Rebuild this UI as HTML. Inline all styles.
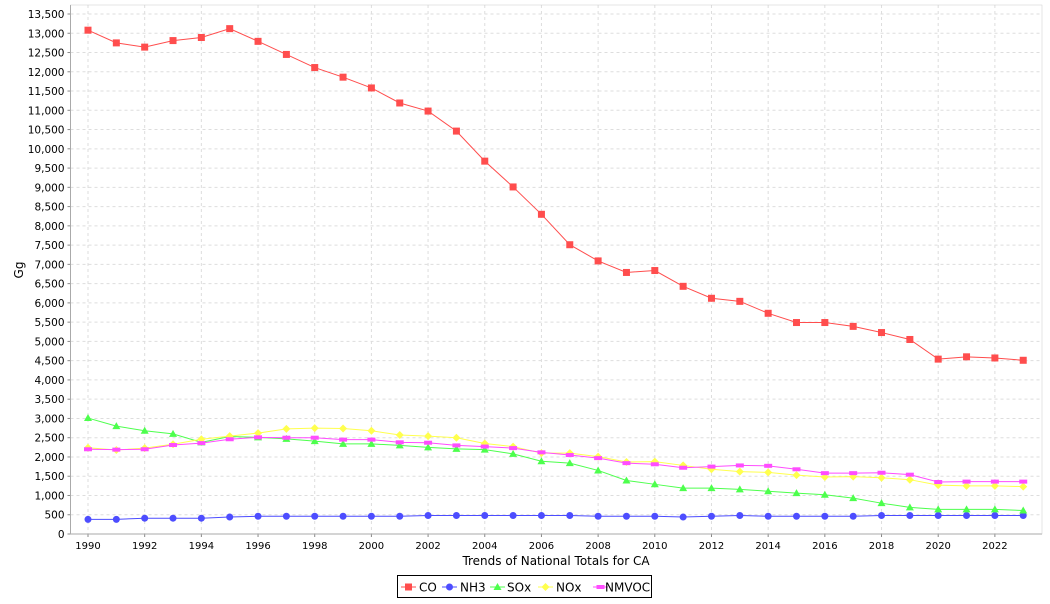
<!DOCTYPE html><html><head><meta charset="utf-8"><style>body{margin:0;background:#fff;font-family:"DejaVu Sans",sans-serif}</style></head><body>
<svg id="s" width="1050" height="600" xmlns="http://www.w3.org/2000/svg" font-family="DejaVu Sans, sans-serif"></svg>
<script>
const s=document.getElementById('s');let h='';
const L=70.5,R=1042,T=5,B=534;
const X=y=>88+(y-1990)*28.34, Y=v=>B-v*520/13500;
h+=`<rect x="${L}" y="${T}" width="${R-L}" height="${B-T}" fill="#fff"/>`;
for(let v=0;v<=13500;v+=500){let y=Y(v);h+=`<line x1="${L}" x2="${R}" y1="${y}" y2="${y}" stroke="#ddd" stroke-dasharray="3,3"/><line x1="${L-3}" x2="${L}" y1="${y}" y2="${y}" stroke="#888"/><text x="${L-6}" y="${y+4}" font-size="10.5" text-anchor="end">${v.toLocaleString('en-US')}</text>`;}
for(let yr=1990;yr<=2022;yr+=2){let x=X(yr);h+=`<line y1="${T}" y2="${B}" x1="${x}" x2="${x}" stroke="#ddd" stroke-dasharray="3,3"/><line y1="${B}" y2="${B+3}" x1="${x}" x2="${x}" stroke="#888"/><text x="${x}" y="${B+15}" font-size="10" text-anchor="middle">${yr}</text>`;}
h+=`<line x1="${L}" x2="${L}" y1="${T}" y2="${B}" stroke="#888"/><line x1="${L}" x2="${R}" y1="${B}" y2="${B}" stroke="#888"/><rect x="${L}" y="${T}" width="${R-L}" height="${B-T}" fill="none" stroke="#ccc" stroke-width="0.5"/>`;
h+=`<text x="556" y="565" font-size="12" text-anchor="middle">Trends of National Totals for CA</text><text x="23" y="270" font-size="12" text-anchor="middle" transform="rotate(-90 23 270)">Gg</text>`;
const D=[
['#ff4d4d','sq',[13080,12750,12640,12810,12890,13120,12790,12450,12110,11860,11580,11190,10980,10460,9680,9010,8300,7510,7090,6790,6840,6430,6120,6040,5730,5490,5490,5390,5230,5050,4540,4600,4570,4510]],
['#4d4dff','ci',[380,380,410,410,410,440,460,460,460,460,460,460,480,480,480,480,480,480,460,460,460,440,460,480,460,460,460,460,480,480,480,480,480,480]],
['#4dff4d','tr',[3010,2800,2680,2600,2380,2530,2510,2470,2410,2340,2340,2300,2250,2210,2190,2080,1890,1840,1650,1390,1290,1190,1190,1160,1110,1060,1020,930,800,690,640,640,640,610]],
['#ffff4d','di',[2240,2180,2230,2330,2460,2540,2620,2730,2750,2740,2680,2570,2540,2500,2350,2270,2100,2100,2010,1870,1880,1780,1680,1620,1600,1530,1480,1490,1460,1410,1270,1250,1250,1230]],
['#ff4dff','re',[2200,2190,2200,2310,2360,2460,2510,2500,2500,2450,2450,2380,2370,2300,2270,2230,2120,2050,1970,1840,1810,1720,1750,1780,1770,1680,1580,1580,1590,1540,1350,1360,1360,1360]]];
function mk(t,x,y,c){if(t=='sq')return `<rect x="${x-3.5}" y="${y-3.5}" width="7" height="7" fill="${c}"/>`;
if(t=='ci')return `<circle cx="${x}" cy="${y}" r="3.5" fill="${c}"/>`;
if(t=='tr')return `<polygon points="${x},${y-4} ${x+4},${y+3} ${x-4},${y+3}" fill="${c}"/>`;
if(t=='di')return `<polygon points="${x},${y-4} ${x+4},${y} ${x},${y+4} ${x-4},${y}" fill="${c}"/>`;
return `<rect x="${x-4}" y="${y-2}" width="8" height="4" fill="${c}"/>`;}
for(const [c,t,a] of D){h+=`<polyline fill="none" stroke="${c}" stroke-width="1" points="${a.map((v,i)=>X(1990+i)+','+Y(v)).join(' ')}"/>`;a.forEach((v,i)=>h+=mk(t,X(1990+i),Y(v),c));}
h+=`<rect x="397.5" y="575.5" width="254" height="22" fill="#fff" stroke="#000"/>`;
const lg=[['CO',401,419],['NH3',442,460],['SOx',490,507],['NOx',538,556],['NMVOC',593,605]];
lg.forEach(([n,x,tx],i)=>{const [c,t]=D[i];h+=`<line x1="${x}" x2="${x+15}" y1="587" y2="587" stroke="${c}"/>`+mk(t,x+7.5,587,c)+`<text x="${tx}" y="591.5" font-size="12">${n}</text>`;});
s.innerHTML=h;
</script></body></html>
